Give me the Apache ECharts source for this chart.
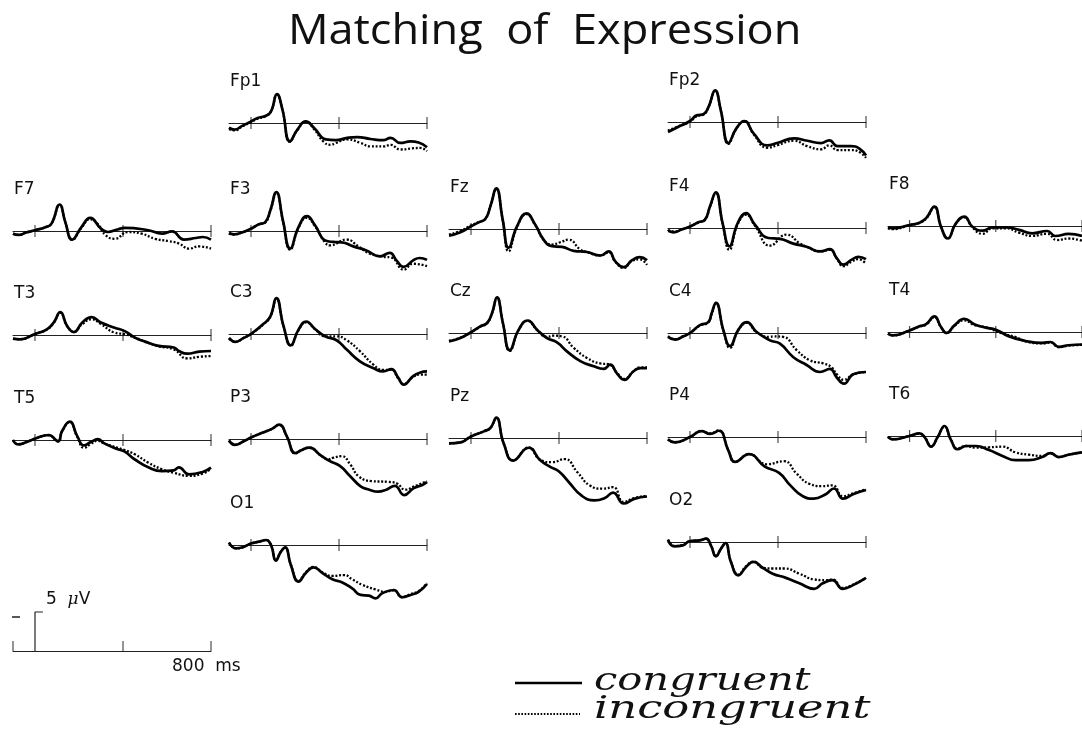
<!DOCTYPE html>
<html>
<head>
<meta charset="utf-8">
<title>Matching of Expression</title>
<script src="https://cdn.jsdelivr.net/npm/echarts@6/dist/echarts.min.js"></script>
<style>
  html, body { margin: 0; padding: 0; background: #fff; }
  #chart { width: 1082px; height: 735px; }
</style>
</head>
<body>
<div id="chart"></div>
<script>
// ERP waveforms: [time in ms, amplitude in µV], negative plotted upward
var TICK_MS = [0, 400, 800];
var SCALE_TICK_MS = [-100, 400, 800];
var SCALE_UV = -5;
var HOOK_MS = 36;

var Fp1_con = [[-100,0.6],[-75,0.85],[-38,0.34],[0,-0.2],[30,-0.64],[68,-0.94],[91,-1.5],[118,-3.7],[143,-1.7],[177,2.35],[211,0.85],[249,-0.2],[287,0.64],[340,2.1],[385,2.2],[438,1.9],[483,1.8],[543,2.05],[604,2.2],[634,1.9],[679,2.56],[725,2.35],[762,2.5],[800,3.1]];
var Fp1_inc = [[-100,0.8],[-75,0.95],[-38,0.4],[0,-0.1],[30,-0.55],[68,-0.9],[91,-1.5],[118,-3.6],[143,-1.7],[177,2.4],[211,0.9],[249,-0.15],[287,0.8],[330,2.4],[362,2.8],[385,2.56],[438,2.1],[498,2.56],[543,3.0],[604,3.0],[634,2.8],[679,3.4],[732,3.25],[770,3.2],[800,3.6]];
var Fp2_con = [[-100,1.28],[-61,0.73],[0,-0.13],[30,-0.85],[61,-1.0],[84,-1.9],[114,-4.06],[140,-1.5],[175,2.7],[210,0.85],[247,-0.13],[290,1.5],[351,3.0],[396,2.7],[473,2.1],[533,2.4],[595,2.7],[633,2.35],[671,3.1],[732,3.1],[770,3.4],[800,4.3]];
var Fp2_inc = [[-100,1.1],[-61,0.65],[0,-0.05],[30,-0.75],[61,-0.95],[84,-1.9],[114,-3.95],[140,-1.5],[175,2.8],[210,0.9],[247,-0.1],[290,1.6],[351,3.3],[396,3.0],[473,2.4],[533,3.1],[595,3.5],[633,3.0],[671,3.6],[732,3.6],[770,3.85],[800,4.6]];

var F7_con = [[-100,0.34],[-75,0.5],[-40,0.2],[0,-0.1],[50,-0.5],[75,-0.95],[112,-3.4],[138,-1.1],[169,1.1],[211,-0.5],[251,-1.67],[300,-0.3],[331,0.13],[375,-0.2],[408,-0.4],[515,-0.1],[577,0.34],[623,0.05],[677,1.1],[731,0.9],[762,0.77],[800,1.1]];
var F7_inc = [[-100,0.34],[-75,0.5],[-40,0.2],[0,-0.1],[50,-0.5],[75,-0.95],[112,-3.35],[138,-1.1],[169,1.15],[211,-0.4],[251,-1.5],[285,-0.9],[320,0.5],[362,1.0],[423,0.13],[485,0.34],[546,1.0],[608,1.3],[654,1.6],[700,2.26],[746,1.97],[800,2.26]];
var F3_con = [[-100,0.26],[-78,0.43],[-41,0.2],[0,-0.3],[35,-0.85],[65,-1.15],[88,-2.65],[115,-5.0],[145,-1.37],[178,2.26],[216,-0.5],[254,-1.9],[291,-0.73],[337,1.2],[374,1.4],[412,1.45],[465,1.97],[525,2.5],[586,3.25],[631,2.8],[661,3.76],[694,4.6],[737,3.76],[767,3.46],[800,3.7]];
var F3_inc = [[-100,0.3],[-78,0.45],[-41,0.2],[0,-0.3],[35,-0.85],[65,-1.1],[88,-2.6],[115,-4.9],[145,-1.3],[178,2.4],[216,-0.4],[254,-1.7],[291,-0.6],[337,1.5],[359,1.84],[435,1.1],[488,1.97],[540,2.9],[601,3.3],[638,3.4],[694,4.96],[737,4.2],[800,4.5]];
var Fz_con = [[-100,0.85],[-48,0.43],[0,-0.34],[35,-0.85],[65,-1.28],[88,-2.9],[115,-5.2],[144,-1.2],[171,2.4],[209,-0.34],[252,-2.0],[292,-0.56],[330,1.37],[368,2.2],[414,2.3],[467,2.8],[527,2.95],[588,3.4],[626,2.86],[656,4.15],[694,4.9],[732,4.0],[767,3.6],[800,4.0]];
var Fz_inc = [[-100,0.7],[-48,0.25],[0,-0.45],[35,-0.9],[65,-1.3],[88,-2.9],[115,-5.1],[144,-1.2],[171,2.86],[209,-0.2],[252,-1.9],[292,-0.5],[330,1.4],[368,2.0],[406,1.7],[444,1.37],[497,2.65],[527,2.95],[588,3.4],[626,3.0],[656,4.2],[694,5.0],[732,4.1],[767,3.9],[800,4.6]];
var F4_con = [[-100,0.2],[-76,0.56],[-38,0.2],[0,-0.2],[38,-0.73],[68,-1.07],[91,-2.8],[117,-4.57],[148,-0.64],[179,2.35],[217,-0.64],[255,-1.9],[295,-0.43],[356,1.28],[409,1.4],[470,2.0],[530,2.4],[591,3.0],[636,2.7],[667,3.85],[697,4.7],[735,4.06],[765,3.7],[800,4.0]];
var F4_inc = [[-100,0.4],[-76,0.45],[-38,0.2],[0,-0.2],[38,-0.7],[68,-1.05],[91,-2.7],[117,-4.45],[148,-0.6],[179,2.8],[217,-0.5],[255,-1.7],[295,-0.3],[364,2.26],[439,0.85],[500,2.0],[530,2.4],[591,3.0],[636,2.8],[667,3.9],[697,4.9],[735,4.3],[765,4.0],[800,4.6]];
var F8_con = [[-100,0.17],[-77,0.3],[0,-0.13],[46,-0.43],[77,-1.0],[115,-2.5],[146,0.1],[177,1.6],[215,-0.34],[254,-1.2],[292,0.1],[338,0.6],[385,0.17],[446,0.17],[508,0.5],[569,0.94],[638,0.64],[677,1.28],[738,1.0],[800,1.28]];
var F8_inc = [[-100,0.3],[-77,0.4],[0,-0.1],[46,-0.4],[77,-0.95],[115,-2.4],[146,0.1],[177,1.6],[215,-0.3],[254,-1.1],[292,0.2],[338,1.0],[385,0.3],[446,0.3],[508,0.85],[569,1.28],[638,1.0],[684,1.8],[738,1.6],[800,1.9]];

var T3_con = [[-100,0.47],[-69,0.56],[0,-0.13],[54,-0.73],[85,-1.6],[115,-2.95],[146,-1.15],[177,-0.38],[215,-1.6],[257,-2.3],[300,-1.6],[362,-0.94],[408,-0.5],[454,0.34],[500,0.85],[562,1.4],[631,1.6],[654,2.05],[692,2.4],[746,2.14],[800,2.05]];
var T3_inc = [[-100,0.47],[-69,0.56],[0,-0.13],[54,-0.7],[85,-1.55],[115,-2.85],[146,-1.15],[177,-0.4],[215,-1.4],[257,-2.0],[300,-1.4],[362,-0.3],[408,-0.1],[454,0.34],[500,0.85],[562,1.45],[631,1.84],[692,3.0],[746,2.8],[800,2.7]];
var C3_con = [[-100,0.5],[-71,1.0],[-33,0.5],[0,0],[57,-1.3],[88,-2.26],[115,-4.6],[148,-1.0],[181,1.45],[216,-0.56],[251,-1.6],[291,-0.64],[337,0.3],[389,0.8],[435,2.0],[495,3.5],[555,4.36],[601,4.8],[638,4.5],[669,5.6],[694,6.5],[737,5.4],[767,4.96],[800,4.8]];
var C3_inc = [[-100,0.6],[-71,1.0],[-33,0.5],[0,0],[57,-1.25],[88,-2.2],[115,-4.5],[148,-1.0],[181,1.5],[216,-0.5],[251,-1.5],[291,-0.6],[337,0.3],[389,0.3],[435,0.8],[495,2.2],[555,3.9],[601,4.6],[638,4.6],[669,5.7],[694,6.4],[737,5.5],[767,5.2],[800,5.2]];
var Cz_con = [[-100,1.07],[-48,0.64],[0,-0.1],[42,-0.85],[73,-1.28],[95,-2.5],[118,-4.57],[145,-1.28],[176,2.2],[217,-0.43],[258,-1.6],[300,-0.43],[345,0.64],[391,1.2],[436,2.35],[497,3.6],[558,4.27],[603,4.6],[633,4.06],[664,5.2],[697,6.0],[739,4.9],[770,4.5],[800,4.5]];
var Cz_inc = [[-100,1.0],[-48,0.6],[0,-0.1],[42,-0.8],[73,-1.25],[95,-2.5],[118,-4.5],[145,-1.3],[176,2.3],[217,-0.4],[258,-1.55],[300,-0.4],[345,0.5],[376,0.34],[414,0.43],[467,1.9],[527,3.2],[588,3.9],[626,4.0],[664,5.1],[697,5.9],[739,4.9],[770,4.4],[800,4.4]];
var C4_con = [[-100,0.5],[-68,0.85],[-30,0.43],[0,0],[45,-1.0],[83,-1.4],[98,-2.5],[118,-3.85],[152,-0.34],[182,1.67],[220,-0.43],[258,-1.4],[303,-0.13],[364,0.94],[409,1.37],[470,3.1],[530,4.1],[591,5.0],[636,4.6],[667,5.7],[700,6.5],[742,5.3],[800,5.0]];
var C4_inc = [[-100,0.4],[-68,0.8],[-30,0.4],[0,0],[45,-0.95],[83,-1.35],[98,-2.4],[118,-3.75],[152,-0.3],[182,1.9],[220,-0.4],[258,-1.3],[303,-0.1],[364,0.5],[379,0.43],[424,0.5],[485,2.2],[545,3.5],[606,3.9],[644,4.4],[667,5.3],[700,6.0],[742,5.3],[800,5.0]];
var T4_con = [[-100,0.2],[-77,0.43],[0,-0.2],[46,-0.73],[77,-1.0],[115,-2.0],[146,-0.64],[172,0.13],[208,-0.85],[254,-1.7],[300,-1.0],[354,-0.56],[400,-0.3],[462,0.56],[538,1.15],[615,1.4],[654,1.28],[692,1.9],[738,1.7],[800,1.6]];
var T4_inc = [[-100,0.2],[-77,0.43],[0,-0.2],[46,-0.7],[77,-0.95],[115,-1.9],[146,-0.6],[172,0.1],[208,-0.8],[254,-1.5],[300,-0.9],[354,-0.6],[431,0.2],[492,0.64],[538,1.2],[615,1.45],[654,1.35],[692,1.95],[738,1.75],[800,1.65]];

var T5_con = [[-100,0],[-77,0.56],[-38,0.26],[0,-0.17],[62,-0.64],[105,0.15],[123,-1.15],[158,-2.35],[192,-0.5],[223,0.7],[254,0.26],[285,-0.1],[315,0.43],[377,1.2],[408,1.5],[454,2.5],[515,3.5],[577,4.0],[631,3.9],[654,3.5],[700,4.4],[762,4.1],[800,3.55]];
var T5_inc = [[-100,0],[-77,0.56],[-38,0.26],[0,-0.17],[62,-0.6],[105,0.2],[123,-1.1],[158,-2.3],[192,-0.4],[223,1.0],[254,0.5],[285,0.1],[315,0.45],[408,1.3],[454,1.84],[515,2.9],[577,3.76],[631,4.2],[700,4.6],[762,4.3],[800,3.7]];
var P3_con = [[-100,0.2],[-74,0.75],[-33,0.3],[0,-0.2],[57,-0.85],[95,-1.3],[128,-1.84],[163,-0.34],[201,1.8],[231,1.4],[265,1.1],[317,2.1],[356,2.8],[404,3.45],[452,4.8],[500,6.1],[538,6.5],[577,6.75],[615,6.5],[654,6.0],[696,7.2],[740,6.3],[779,5.9],[800,5.5]];
var P3_inc = [[-100,0.2],[-74,0.75],[-33,0.3],[0,-0.2],[57,-0.85],[95,-1.3],[128,-1.8],[163,-0.3],[201,1.85],[231,1.4],[265,1.1],[317,2.1],[350,2.6],[375,2.4],[413,2.2],[452,3.3],[490,4.8],[548,5.4],[625,5.5],[663,5.7],[702,6.5],[740,6.1],[800,5.4]];
var Pz_con = [[-100,0.7],[-48,0.56],[0,-0.2],[58,-0.85],[88,-1.28],[115,-2.6],[148,0.64],[192,2.9],[262,1.25],[315,2.86],[360,3.7],[400,4.3],[446,5.7],[503,7.4],[561,8.0],[608,7.7],[646,7.0],[694,8.4],[742,7.8],[800,7.5]];
var Pz_inc = [[-100,0.7],[-48,0.56],[0,-0.2],[58,-0.85],[88,-1.28],[115,-2.55],[148,0.64],[192,2.85],[262,1.2],[315,2.8],[369,3.1],[426,2.7],[484,4.4],[541,6.1],[598,6.5],[646,6.3],[694,8.2],[742,7.7],[800,7.4]];
var P4_con = [[-100,0.3],[-70,0.7],[0,0],[53,-0.75],[91,-0.4],[131,-0.8],[174,1.7],[205,3.2],[268,2.2],[340,3.8],[405,4.6],[456,6.2],[513,7.6],[561,7.9],[619,7.3],[654,6.6],[696,7.9],[744,7.3],[800,6.8]];
var P4_inc = [[-100,0.3],[-70,0.7],[0,0],[53,-0.8],[91,-0.45],[131,-0.85],[174,1.7],[205,3.2],[268,2.2],[350,3.5],[427,3.1],[485,4.7],[542,6.0],[600,6.3],[648,6.2],[696,7.6],[744,7.2],[800,6.7]];
var T6_con = [[-100,0.1],[-77,0.43],[0,0],[46,-0.34],[69,0.1],[100,1.37],[131,0.1],[162,-1.28],[192,0.5],[223,1.7],[262,1.28],[308,1.28],[369,1.8],[431,2.56],[492,3.1],[554,3.1],[615,2.7],[654,2.2],[692,2.7],[738,2.4],[800,2.1]];
var T6_inc = [[-100,0.1],[-77,0.43],[0,0],[46,-0.3],[69,0.1],[100,1.3],[131,0.1],[162,-1.2],[192,0.5],[223,1.6],[262,1.28],[308,1.5],[369,1.45],[431,1.37],[492,2.1],[554,2.4],[615,2.56],[654,2.2],[692,2.7],[738,2.4],[800,2.1]];

var O1_con = [[-100,-0.3],[-68,0.43],[-38,0.3],[0,-0.2],[38,-0.43],[68,-0.64],[91,0],[113,2.0],[136,0.85],[155,0.3],[181,2.56],[216,4.7],[249,3.6],[284,2.86],[325,3.6],[370,4.4],[415,4.8],[460,5.56],[498,6.4],[536,6.5],[566,6.84],[596,6.2],[649,5.77],[687,6.7],[725,6.4],[762,6.0],[800,5.0]];
var O1_inc = [[-100,-0.3],[-68,0.43],[-38,0.3],[0,-0.2],[38,-0.43],[68,-0.64],[91,0],[113,1.9],[136,0.85],[155,0.3],[181,2.5],[216,4.6],[249,3.5],[284,2.8],[325,3.5],[370,3.97],[423,3.85],[460,4.4],[506,5.1],[566,5.7],[611,6.0],[649,5.8],[687,6.7],[725,6.3],[762,5.9],[800,4.9]];
var O2_con = [[-100,-0.3],[-71,0.56],[-33,0.43],[0,-0.13],[42,-0.2],[73,-0.43],[95,0.43],[118,1.84],[141,0.85],[161,0.13],[186,2.56],[220,4.27],[255,3.2],[289,2.56],[330,3.3],[376,4.06],[436,4.6],[497,5.3],[565,6.0],[603,5.3],[648,4.9],[694,6.0],[739,5.56],[800,4.6]];
var O2_inc = [[-100,-0.3],[-71,0.5],[-33,0.4],[0,-0.1],[42,-0.2],[73,-0.43],[95,0.43],[118,1.8],[141,0.85],[161,0.2],[186,2.5],[220,4.2],[255,3.1],[289,2.5],[330,3.3],[376,3.4],[429,3.4],[497,4.06],[565,4.8],[618,4.9],[648,4.8],[694,5.9],[739,5.5],[800,4.6]];

var electrodes = ['Fp1','Fp2','F7','F3','Fz','F4','F8','T3','C3','Cz','C4','T4','T5','P3','Pz','P4','T6','O1','O2'];
var congruent = {Fp1:Fp1_con,Fp2:Fp2_con,F7:F7_con,F3:F3_con,Fz:Fz_con,F4:F4_con,F8:F8_con,T3:T3_con,C3:C3_con,Cz:Cz_con,C4:C4_con,T4:T4_con,T5:T5_con,P3:P3_con,Pz:Pz_con,P4:P4_con,T6:T6_con,O1:O1_con,O2:O2_con};
var incongruent = {Fp1:Fp1_inc,Fp2:Fp2_inc,F7:F7_inc,F3:F3_inc,Fz:Fz_inc,F4:F4_inc,F8:F8_inc,T3:T3_inc,C3:C3_inc,Cz:Cz_inc,C4:C4_inc,T4:T4_inc,T5:T5_inc,P3:P3_inc,Pz:Pz_inc,P4:P4_inc,T6:T6_inc,O1:O1_inc,O2:O2_inc};

// panel placement: [left px of -100 ms, baseline px]
var place = {
  Fp1: [229, 123], Fp2: [668, 122],
  F7: [13, 231], F3: [229, 231], Fz: [449, 229], F4: [668, 228], F8: [888, 226],
  T3: [13, 335], C3: [229, 334], Cz: [449, 333], C4: [668, 333], T4: [888, 332],
  T5: [13, 440], P3: [229, 439], Pz: [449, 438], P4: [668, 437], T6: [888, 436],
  O1: [229, 545], O2: [668, 542]
};
var scalePlace = [13, 651];

var PX_UV = 7.8, Y_MIN = -7, Y_MAX = 10, PANEL_W = 198;

var grids = [], xAxes = [], yAxes = [], series = [], graphics = [];

function addPanel(idx, left, base) {
  grids.push({ left: left, top: base + Y_MIN * PX_UV, width: PANEL_W, height: (Y_MAX - Y_MIN) * PX_UV });
  xAxes.push({
    type: 'value', gridIndex: idx, min: -100, max: 800,
    axisLine: { onZero: true, lineStyle: { color: '#222', width: 1 } },
    axisTick: { show: false }, axisLabel: { show: false }, splitLine: { show: false }
  });
  yAxes.push({
    type: 'value', gridIndex: idx, min: Y_MIN, max: Y_MAX, inverse: true,
    axisLine: { show: false }, axisTick: { show: false }, axisLabel: { show: false }, splitLine: { show: false }
  });
}

electrodes.forEach(function (name, i) {
  var p = place[name];
  addPanel(i, p[0], p[1]);
  series.push({
    type: 'line', xAxisIndex: i, yAxisIndex: i, data: incongruent[name],
    smooth: 0.5, showSymbol: false, clip: false, z: 2,
    lineStyle: { color: '#000', width: 2.3, type: [2, 1.8] }
  });
  series.push({
    type: 'line', xAxisIndex: i, yAxisIndex: i, data: congruent[name],
    smooth: 0.5, showSymbol: false, clip: false, z: 3,
    lineStyle: { color: '#000', width: 2.7 }
  });
  series.push({
    type: 'scatter', xAxisIndex: i, yAxisIndex: i,
    data: TICK_MS.map(function (t) { return [t, 0]; }),
    symbol: 'rect', symbolSize: [1.2, 12], itemStyle: { color: '#222' }, z: 1
  });
  graphics.push({
    type: 'text', left: p[0] + 1, top: p[1] - 50,
    style: { text: name, font: '17px "DejaVu Sans"', fill: '#111' }
  });
});

// calibration bar
var s = electrodes.length;
addPanel(s, scalePlace[0], scalePlace[1]);
series.push({
  type: 'scatter', xAxisIndex: s, yAxisIndex: s,
  data: SCALE_TICK_MS.map(function (t) { return [t, 0]; }),
  symbol: 'rect', symbolSize: [1.2, 10], symbolOffset: [0, -5], itemStyle: { color: '#222' }
});
series.push({
  type: 'line', xAxisIndex: s, yAxisIndex: s,
  data: [[0, 0], [0, SCALE_UV], [HOOK_MS, SCALE_UV]],
  showSymbol: false, clip: false, lineStyle: { color: '#222', width: 1.2 }
});

graphics.push(
  { type: 'text', x: 288, y: 11, scaleX: 1.075, originX: 0, originY: 0,
    style: { text: 'Matching  of  Expression', font: '42px "Open Sans"', fill: '#111' } },
  { type: 'line', shape: { x1: 12, y1: 617, x2: 20, y2: 617 }, style: { stroke: '#222', lineWidth: 1.5 } },
  { type: 'text', left: 46, top: 591,
    style: { text: '5  {i|μ}V', font: '17px "DejaVu Sans"', fill: '#111',
      rich: { i: { fontStyle: 'italic', fontFamily: 'DejaVu Serif', fontSize: 17 } } } },
  { type: 'text', left: 172, top: 658,
    style: { text: '800  ms', font: '17px "DejaVu Sans"', fill: '#111' } },
  { type: 'line', shape: { x1: 515, y1: 683, x2: 582, y2: 683 }, style: { stroke: '#000', lineWidth: 2.5 } },
  { type: 'line', shape: { x1: 515, y1: 714, x2: 580, y2: 714 }, style: { stroke: '#000', lineWidth: 2, lineDash: [1.6, 1.6] } },
  { type: 'text', x: 594, y: 666, scaleX: 1.3, originX: 0, originY: 0,
    style: { text: 'congruent', font: 'italic 32px "DejaVu Serif"', fill: '#111' } },
  { type: 'text', x: 594, y: 694, scaleX: 1.4, originX: 0, originY: 0,
    style: { text: 'incongruent', font: 'italic 32px "DejaVu Serif"', fill: '#111' } }
);

var chart = echarts.init(document.getElementById('chart'), null, { renderer: 'canvas' });
chart.setOption({
  animation: false,
  backgroundColor: '#fff',
  grid: grids,
  xAxis: xAxes,
  yAxis: yAxes,
  series: series,
  graphic: graphics
});
</script>
</body>
</html>
